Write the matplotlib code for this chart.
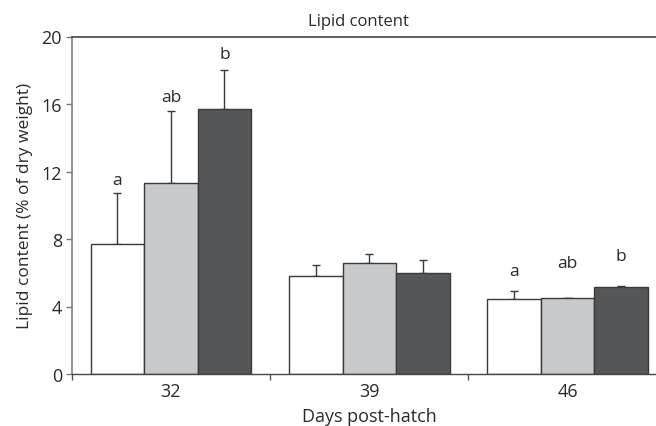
import matplotlib
matplotlib.use("Agg")
import matplotlib.pyplot as plt
import numpy as np

plt.rcParams['font.family'] = ['Open Sans', 'DejaVu Sans']

days = ["32", "39", "46"]
white_vals = [7.69, 5.79, 4.44]
white_err = [3.05, 0.67, 0.50]
gray_vals = [11.32, 6.60, 4.48]
gray_err = [4.28, 0.53, 0.0]
dark_vals = [15.72, 6.00, 5.14]
dark_err = [2.31, 0.74, 0.07]

# significance letters: (group index, series index, text, y)
letters = [
    (0, 0, "a", 11.5), (0, 1, "ab", 16.4), (0, 2, "b", 18.96),
    (2, 0, "a", 6.12), (2, 1, "ab", 6.58), (2, 2, "b", 7.01),
]

fig = plt.figure(figsize=(6.56, 4.27), dpi=100)
W, H = 656, 427
left_px, right_px, top_px, bottom_px = 71.7, 666.9, 37.5, 375.0
ax = fig.add_axes([left_px / W, 1 - bottom_px / H,
                   (right_px - left_px) / W, (bottom_px - top_px) / H])

x = np.arange(len(days))
bw = 0.27
offsets = [-bw, 0, bw]
series = [(white_vals, white_err, "#ffffff"),
          (gray_vals, gray_err, "#c8c9cb"),
          (dark_vals, dark_err, "#555658")]
edge = "#3a3a3a"
txtc = '#2a2a2a'
for (vals, err, col), off in zip(series, offsets):
    ax.bar(x + off, vals, width=bw, color=col, edgecolor=edge, linewidth=1.0, zorder=2)
    ax.errorbar(x + off, vals, yerr=[np.zeros(len(err)), err], fmt='none',
                ecolor=edge, elinewidth=1.0, capsize=3, capthick=1.0, zorder=1)

for g, s, t, yv in letters:
    ax.text(x[g] + offsets[s], yv, t, ha='center', va='center', fontsize=12.5, color=txtc)

ax.set_xlim(-0.5, 2.5)
ax.set_ylim(0, 20)
ax.set_yticks([0, 4, 8, 12, 16, 20])
ax.set_xticks(x)
ax.set_xticklabels(days)
ax.set_xticks([-0.5, 0.5, 1.5], minor=True)
ax.tick_params(axis='x', which='major', length=0, labelsize=13, pad=6, colors=txtc)
ax.tick_params(axis='x', which='minor', length=4, width=1, color='#555555', direction='out')
ax.tick_params(axis='y', length=4, width=1, labelsize=13, color='#777777', labelcolor=txtc, pad=3)

ax.spines['left'].set_color('#808080')
ax.spines['left'].set_linewidth(1.2)
ax.spines['top'].set_color('#444444')
ax.spines['top'].set_linewidth(1.2)
ax.spines['bottom'].set_color('#444444')
ax.spines['bottom'].set_linewidth(1.0)
ax.spines['right'].set_visible(False)

ax.set_xlabel("Days post-hatch", fontsize=13, color=txtc, labelpad=5)
ax.set_ylabel("Lipid content (% of dry weight)", fontsize=12.5, color=txtc, labelpad=6)
ax.text(0.481, 1.0 + 15 / (bottom_px - top_px), "Lipid content", transform=ax.transAxes,
        ha='center', va='center', fontsize=12, color=txtc)

fig.savefig("out.png", dpi=100)
